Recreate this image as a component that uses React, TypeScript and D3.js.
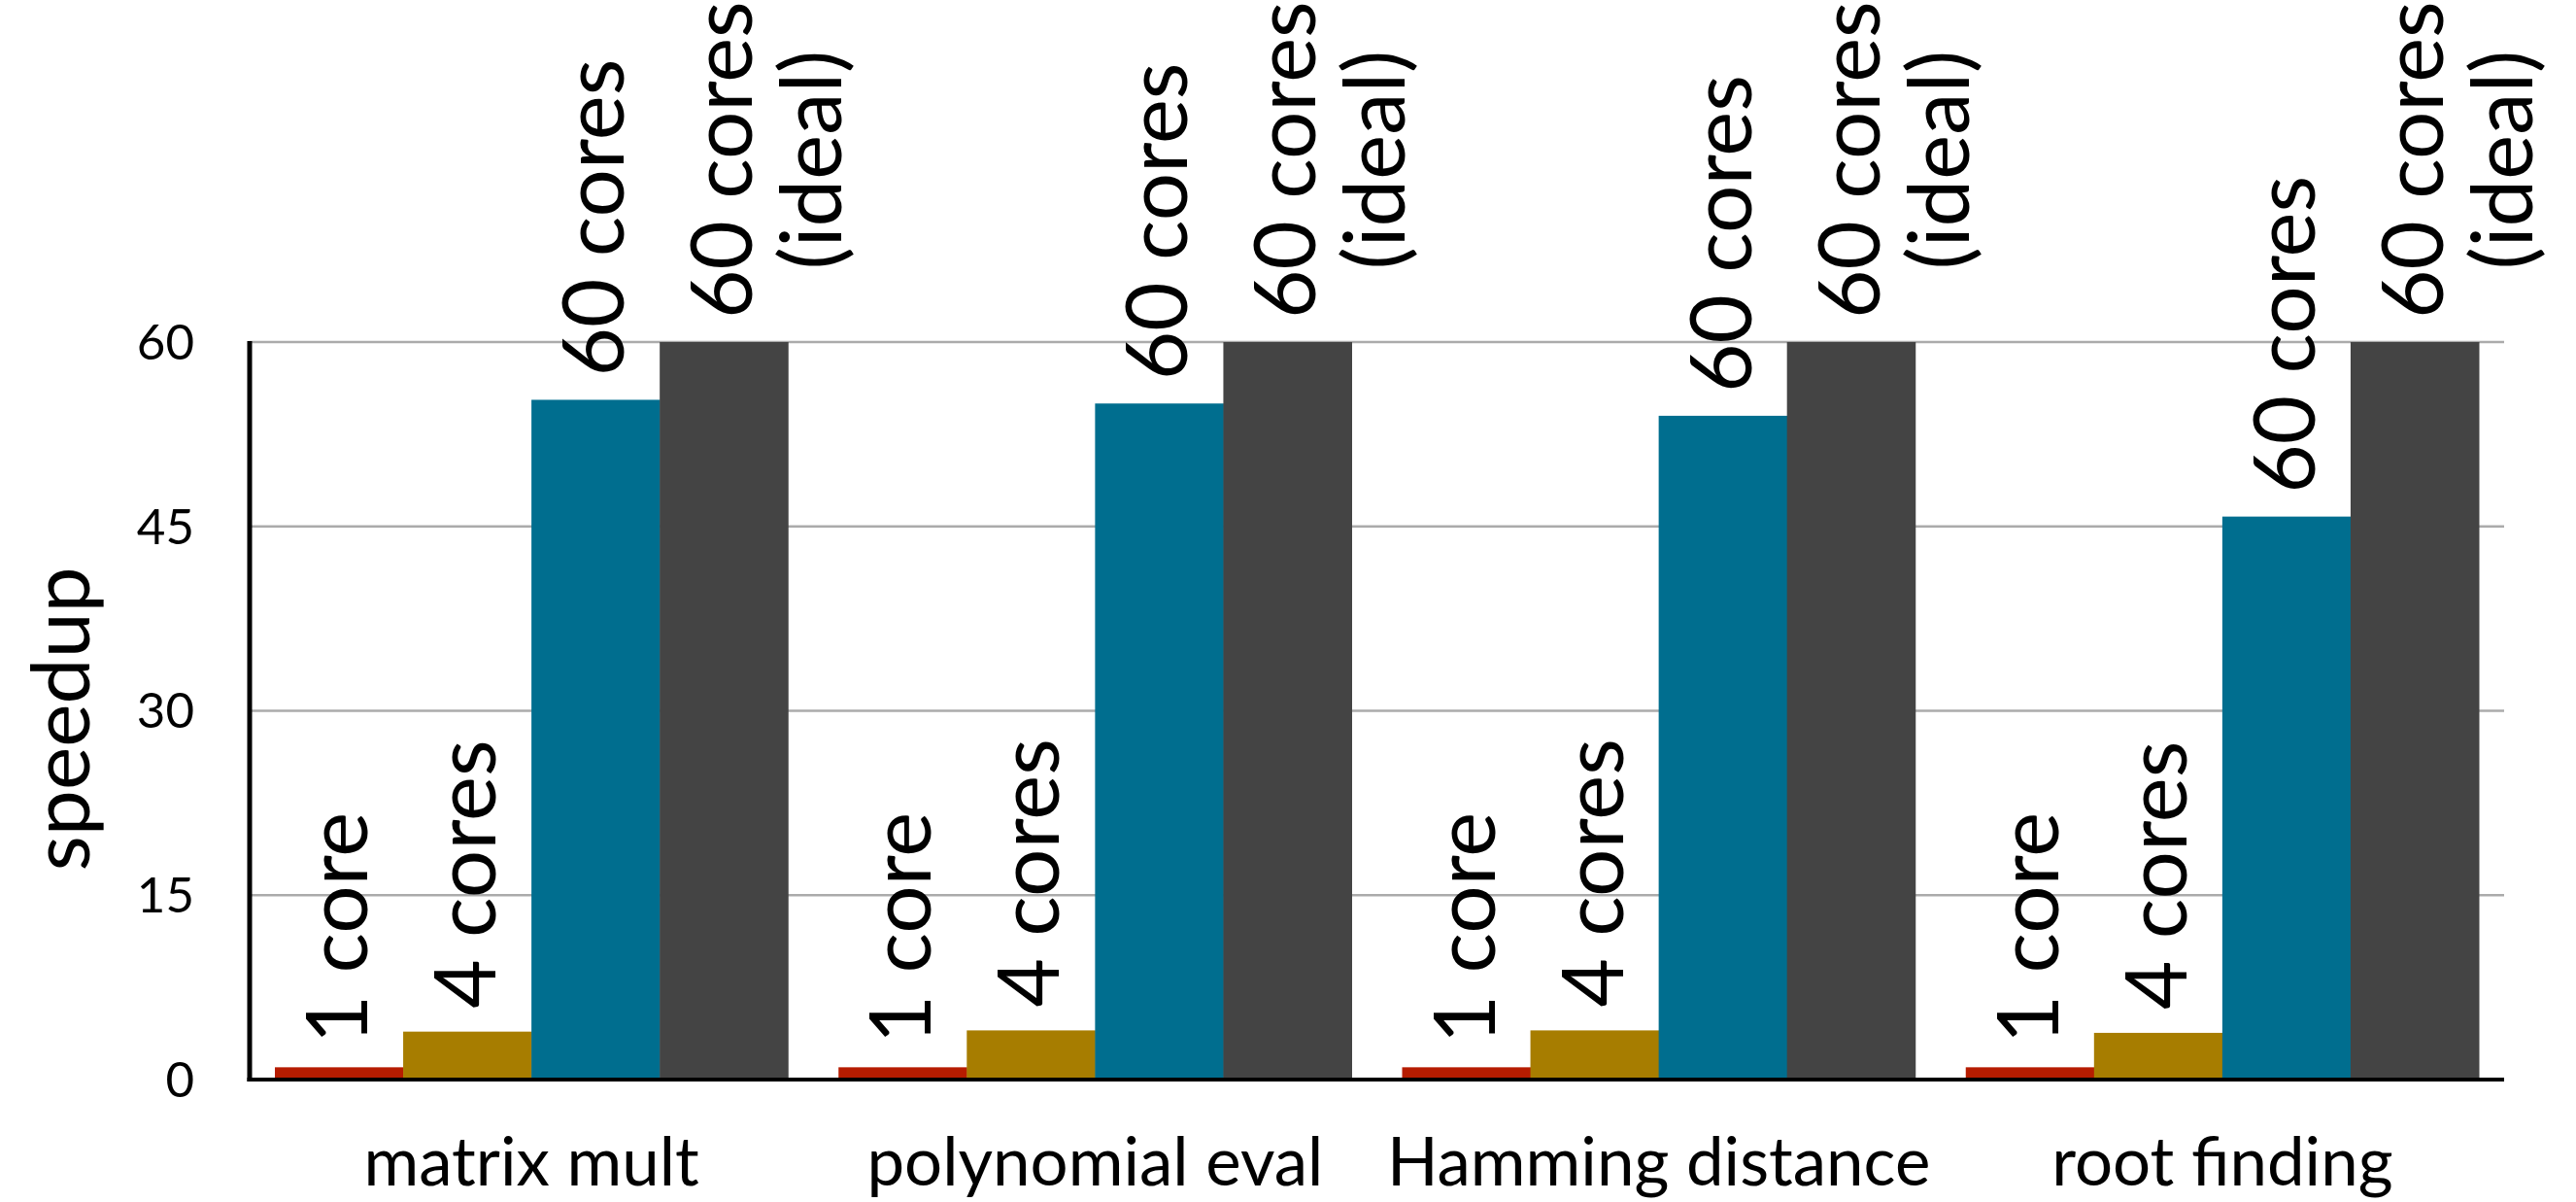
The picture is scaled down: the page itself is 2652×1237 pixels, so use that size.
import React, { useEffect, useRef } from "react";
import * as d3 from "d3";

const categories = ["matrix mult", "polynomial eval", "Hamming distance", "root finding"];
const seriesNames = ["1 core", "4 cores", "60 cores", "60 cores|(ideal)"];
const oneCore = [1, 1, 1, 1];
const fourCores = [3.9, 4.0, 4.0, 3.8];
const sixtyCores = [55.3, 55.0, 54.0, 45.8];
const sixtyIdeal = [60, 60, 60, 60];
const yTicks = [0, 15, 30, 45, 60];
const seriesColors = ["#B61C00", "#A77D00", "#006E8F", "#444444"];

const W = 2652;
const H = 1237;
const FONT = "Lato, 'Open Sans', sans-serif";

export default function App() {
  const ref = useRef<SVGSVGElement | null>(null);

  useEffect(() => {
    document.body.style.margin = "0";
    const svg = d3.select(ref.current);
    svg.selectAll("*").remove();

    const left = 257;
    const right = 2578;
    const top = 352;
    const bottom = 1111;

    const values = [oneCore, fourCores, sixtyCores, sixtyIdeal];

    const x0 = d3.scaleBand<string>().domain(categories).range([left, right]).paddingInner(0).paddingOuter(0);
    const inner = d3
      .scaleBand<string>()
      .domain(seriesNames)
      .range([26, x0.bandwidth() - 26])
      .padding(0);
    const y = d3.scaleLinear().domain([0, 60]).range([bottom, top]);

    // gridlines
    svg
      .append("g")
      .selectAll("line")
      .data(yTicks.filter((t) => t > 0))
      .join("line")
      .attr("x1", left)
      .attr("x2", right)
      .attr("y1", (d) => y(d))
      .attr("y2", (d) => y(d))
      .attr("stroke", "#ababab")
      .attr("stroke-width", 2.5);

    // bars
    const groups = svg
      .append("g")
      .selectAll("g")
      .data(categories)
      .join("g")
      .attr("transform", (d) => `translate(${x0(d)},0)`);

    groups.each(function (cat, ci) {
      const g = d3.select(this);
      seriesNames.forEach((s, si) => {
        const v = values[si][ci];
        const bx = inner(s)!;
        const bw = inner.bandwidth();
        g.append("rect")
          .attr("x", bx)
          .attr("y", y(v))
          .attr("width", bw + 0.5)
          .attr("height", bottom - y(v))
          .attr("fill", seriesColors[si]);

        const lines = s.split("|");
        const cx = bx + bw / 2 + 29;
        const startY = y(v) - 24;
        const t = g
          .append("text")
          .attr("font-family", FONT)
          .attr("font-size", 87)
          .attr("fill", "#000");
        const first = t
          .append("tspan")
          .text(lines[0])
          .attr("x", 0)
          .attr("y", 0);
        const len = (first.node() as SVGTextContentElement).getComputedTextLength();
        t.attr("transform", `translate(${cx},${startY}) rotate(-90)`);
        if (lines.length > 1) {
          first.attr("text-anchor", "middle").attr("x", len / 2);
          lines.slice(1).forEach((ln, li) => {
            t.append("tspan")
              .text(ln)
              .attr("text-anchor", "middle")
              .attr("x", len / 2)
              .attr("y", 92 * (li + 1));
          });
        }
      });
    });

    // axes lines
    svg
      .append("line")
      .attr("x1", left)
      .attr("x2", left)
      .attr("y1", top - 1)
      .attr("y2", bottom + 2)
      .attr("stroke", "#000")
      .attr("stroke-width", 5);
    svg
      .append("line")
      .attr("x1", left - 2.5)
      .attr("x2", right)
      .attr("y1", bottom)
      .attr("y2", bottom)
      .attr("stroke", "#000")
      .attr("stroke-width", 4);

    // y tick labels
    svg
      .append("g")
      .selectAll("text")
      .data(yTicks)
      .join("text")
      .attr("x", 200)
      .attr("y", (d) => y(d))
      .attr("dy", "0.35em")
      .attr("text-anchor", "end")
      .attr("font-family", FONT)
      .attr("font-size", 51)
      .text((d) => String(d));

    // category labels
    svg
      .append("g")
      .selectAll("text")
      .data(categories)
      .join("text")
      .attr("x", (d) => x0(d)! + x0.bandwidth() / 2)
      .attr("y", 1220)
      .attr("text-anchor", "middle")
      .attr("font-family", FONT)
      .attr("font-size", 69)
      .text((d) => d);

    // y axis title
    svg
      .append("text")
      .attr("transform", `translate(92,740) rotate(-90)`)
      .attr("text-anchor", "middle")
      .attr("font-family", FONT)
      .attr("font-size", 84)
      .text("speedup");
  }, []);

  return <svg ref={ref} width={W} height={H} style={{ display: "block", background: "#fff" }} />;
}
